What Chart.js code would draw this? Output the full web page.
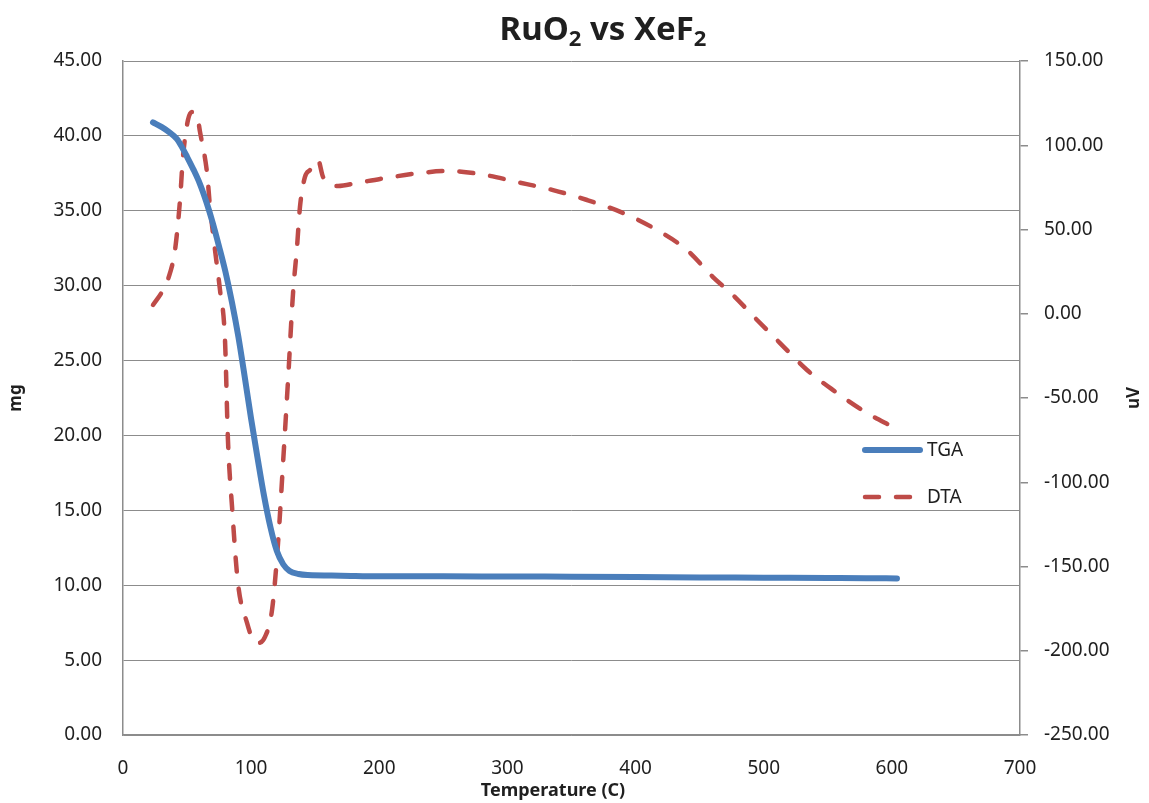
<!DOCTYPE html>
<html lang="en">
<head>
  <meta charset="UTF-8" />
  <title>RuO2 vs XeF2</title>
  <script src="https://cdn.jsdelivr.net/npm/chart.js"></script>
  <style>
    body {
      margin: 0;
      background-color: #ffffff;
    }
    .chart-container {
      width: 1149px;
      height: 803px;
    }
  </style>
</head>
<body>
  <div class="chart-container">
    <canvas id="tgaChart" width="1149" height="803"></canvas>
  </div>

  <script>
    // === Data ===
    const tgaTemp = [23.4, 30, 36, 42, 46, 50, 55, 60, 65, 70, 75, 80, 85, 90, 95, 100, 105, 110, 115, 120, 125, 130, 137, 144, 170, 200, 250, 300, 350, 400, 450, 500, 550, 580, 604];
    const tgaMass = [40.9, 40.6, 40.25, 39.8, 39.25, 38.6, 37.75, 36.8, 35.6, 34.2, 32.6, 30.9, 28.9, 26.6, 23.9, 21.1, 18.5, 16.0, 13.9, 12.3, 11.4, 10.95, 10.75, 10.68, 10.64, 10.6, 10.6, 10.58, 10.57, 10.55, 10.52, 10.5, 10.48, 10.47, 10.45];

    const dtaTemp = [23.4, 31.2, 36.7, 40.6, 44.5, 46.8, 50.7, 53.8, 57.7, 60.1, 65.6, 67.9, 71.8, 75.7, 79.6, 81.9, 85.1, 89.7, 96.8, 101.5, 105.4, 110.8, 116.3, 121.0, 124.9, 128.8, 132.7, 135.8, 138.1, 142.0, 145.9, 152.2, 156.1, 167.8, 182.6, 200.6, 231.8, 252.8, 278.6, 307.5, 335.6, 362.1, 390.2, 416.7, 440.1, 460.4, 476.0, 494.8, 512.7, 533.8, 554.1, 580.6, 600.9];
    const dtaSignal = [5.2, 14.1, 24.2, 37.8, 67.5, 93.0, 115.0, 119.7, 118.0, 107.9, 83.5, 63.4, 37.8, 14.1, -15.6, -74.9, -114.7, -159.8, -183.5, -193.6, -195.4, -191.8, -175.8, -136.0, -88.6, -39.3, 12.3, 39.6, 63.4, 81.2, 85.3, 91.2, 81.2, 75.8, 77.6, 80.0, 83.5, 84.7, 82.9, 78.2, 73.4, 67.5, 59.8, 49.7, 37.8, 21.8, 11.1, -3.7, -17.4, -33.4, -45.3, -58.9, -67.2];

    const seriesNames = ['TGA', 'DTA'];
    const titleParts = [['RuO', false], ['2', true], [' vs XeF', false], ['2', true]];
    const xTitle = 'Temperature (C)';
    const leftTitle = 'mg';
    const rightTitle = 'uV';

    const gridColor = '#8c8c8c';
    const textColor = '#1f1f1f';
    const fontFamily = '"Noto Sans", sans-serif';

    // title, axis titles and the in-plot legend
    const decorations = {
      id: 'decorations',
      afterDraw(chart) {
        const ctx = chart.ctx;
        const area = chart.chartArea;
        ctx.save();
        ctx.fillStyle = textColor;

        // chart title with subscripts
        const big = 'bold 33px ' + fontFamily;
        const small = 'bold 22px ' + fontFamily;
        let total = 0;
        titleParts.forEach(p => {
          ctx.font = p[1] ? small : big;
          total += ctx.measureText(p[0]).width;
        });
        let x = 603 - total / 2;
        ctx.textBaseline = 'alphabetic';
        ctx.textAlign = 'left';
        titleParts.forEach(p => {
          ctx.font = p[1] ? small : big;
          ctx.fillText(p[0], x, p[1] ? 46 : 40);
          x += ctx.measureText(p[0]).width;
        });

        // axis titles
        ctx.font = 'bold 18px ' + fontFamily;
        ctx.textAlign = 'center';
        ctx.textBaseline = 'middle';
        ctx.fillText(xTitle, 553, 791);

        ctx.font = 'bold 17px ' + fontFamily;
        [[leftTitle, 16], [rightTitle, 1134]].forEach(t => {
          ctx.save();
          ctx.translate(t[1], (area.top + area.bottom) / 2);
          ctx.rotate(-Math.PI / 2);
          ctx.fillText(t[0], 0, 0);
          ctx.restore();
        });

        // legend inside the plot
        const rows = [450, 497];
        ctx.font = '19px ' + fontFamily;
        ctx.textAlign = 'left';
        chart.data.datasets.forEach((ds, i) => {
          ctx.save();
          ctx.strokeStyle = ds.borderColor;
          ctx.lineWidth = ds.borderWidth;
          ctx.lineCap = 'round';
          ctx.setLineDash(ds.borderDash || []);
          ctx.beginPath();
          ctx.moveTo(865, rows[i]);
          ctx.lineTo(920, rows[i]);
          ctx.stroke();
          ctx.restore();
          ctx.fillText(ds.label, 927, rows[i] + 1);
        });
        ctx.restore();
      }
    };

    new Chart(document.getElementById('tgaChart'), {
      type: 'line',
      data: {
        datasets: [
          {
            label: seriesNames[0],
            data: tgaTemp.map((t, i) => ({ x: t, y: tgaMass[i] })),
            borderColor: '#4a7ebb',
            borderWidth: 6,
            pointRadius: 0,
            cubicInterpolationMode: 'monotone',
            borderCapStyle: 'round',
            yAxisID: 'y'
          },
          {
            label: seriesNames[1],
            data: dtaTemp.map((t, i) => ({ x: t, y: dtaSignal[i] })),
            borderColor: '#be4b48',
            borderWidth: 4.5,
            borderDash: [14, 17],
            borderCapStyle: 'round',
            pointRadius: 0,
            cubicInterpolationMode: 'monotone',
            yAxisID: 'y2'
          }
        ]
      },
      options: {
        responsive: false,
        animation: false,
        layout: { padding: { top: 61, left: 0, right: 0, bottom: 0 } },
        plugins: {
          legend: { display: false },
          title: { display: false },
          tooltip: { enabled: false }
        },
        scales: {
          x: {
            type: 'linear',
            min: 0,
            max: 700,
            ticks: {
              stepSize: 100,
              padding: 22,
              maxRotation: 0,
              color: textColor,
              font: { family: fontFamily, size: 19 }
            },
            grid: { display: false, drawTicks: false },
            border: { display: true, color: gridColor, width: 1.5 },
            afterFit: s => { s.height = 68; }
          },
          y: {
            position: 'left',
            min: 0,
            max: 45,
            ticks: {
              stepSize: 5,
              padding: 21,
              color: textColor,
              font: { family: fontFamily, size: 19 },
              callback: v => v.toFixed(2)
            },
            grid: { color: gridColor, lineWidth: 1, drawTicks: false },
            border: { display: true, color: gridColor, width: 1.5 },
            afterFit: s => { s.width = 123; }
          },
          y2: {
            position: 'right',
            min: -250,
            max: 150,
            ticks: {
              stepSize: 50,
              padding: 16,
              color: textColor,
              font: { family: fontFamily, size: 19 },
              callback: v => v.toFixed(2)
            },
            grid: { drawOnChartArea: false, drawTicks: true, tickLength: 8, color: gridColor, lineWidth: 1.5 },
            border: { display: true, color: gridColor, width: 1.5 },
            afterFit: s => { s.width = 129; }
          }
        }
      },
      plugins: [decorations]
    });
  </script>
</body>
</html>
